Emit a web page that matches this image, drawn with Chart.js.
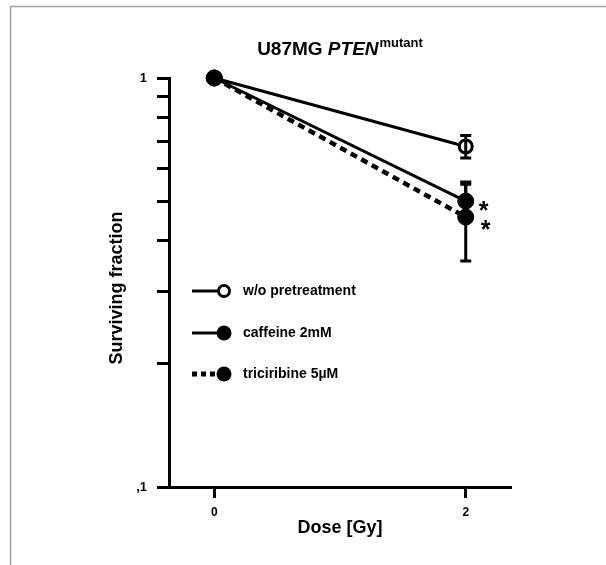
<!DOCTYPE html>
<html>
<head>
<meta charset="utf-8">
<script src="https://cdn.jsdelivr.net/npm/chart.js@4.4.0/dist/chart.umd.min.js"></script>
<style>
  html, body { margin: 0; padding: 0; background: #fff; }
  #wrap { width: 606px; height: 565px; }
</style>
</head>
<body>
<div id="wrap"><canvas id="myChart" width="606" height="565"></canvas></div>
<script>
// dose in Gy
const doses = [0, 2];
const woPre = [1, 0.68];
const woPreErr = [0, 0.043];
const caffeine = [1, 0.50];
const caffeineErr = [0, 0.05];
const triciribine = [1, 0.457];
const triciribineErr = [0, 0.10];
const xTicks = [0, 2];
const yTicks = [0.1, 0.2, 0.3, 0.4, 0.5, 0.6, 0.7, 0.8, 0.9, 1];
const legendLabels = ['w/o pretreatment', 'caffeine 2mM', 'triciribine 5µM'];
const starred = ['caffeine 2mM', 'triciribine 5µM'];

const FONT = '"Liberation Sans", Arial, sans-serif';

function pts(ys) {
  return doses.map((d, i) => ({ x: d, y: ys[i] }));
}

const series = [
  { label: 'caffeine 2mM', data: caffeine, err: caffeineErr, fill: true, dash: [] },
  { label: 'w/o pretreatment', data: woPre, err: woPreErr, fill: false, dash: [] },
  { label: 'triciribine 5µM', data: triciribine, err: triciribineErr, fill: true, dash: [7, 5] }
];

const extras = {
  id: 'extras',
  beforeDraw(chart) {
    const c = chart.ctx;
    c.save();
    c.fillStyle = '#fff';
    c.fillRect(0, 0, chart.width, chart.height);
    c.strokeStyle = '#9ea3a8';
    c.lineWidth = 1.5;
    c.beginPath();
    c.moveTo(10.5, chart.height);
    c.lineTo(10.5, 6.5);
    c.lineTo(chart.width, 6.5);
    c.stroke();
    c.restore();
  },
  afterDatasetsDraw(chart) {
    const c = chart.ctx;
    const xs = chart.scales.x, ys = chart.scales.y;
    c.save();
    c.strokeStyle = '#000';
    c.lineWidth = 3;
    series.forEach(s => {
      doses.forEach((d, i) => {
        if (!s.err[i]) return;
        const px = xs.getPixelForValue(d);
        const top = ys.getPixelForValue(s.data[i] + s.err[i]);
        const bot = ys.getPixelForValue(s.data[i] - s.err[i]);
        c.beginPath();
        c.moveTo(px, top); c.lineTo(px, bot);
        c.moveTo(px - 5.5, top); c.lineTo(px + 5.5, top);
        c.moveTo(px - 5.5, bot); c.lineTo(px + 5.5, bot);
        c.stroke();
      });
    });

    // significance stars
    c.fillStyle = '#000';
    c.font = 'bold 25px ' + FONT;
    c.textAlign = 'center';
    c.textBaseline = 'alphabetic';
    series.filter(s => starred.includes(s.label)).forEach((s, k) => {
      const i = doses.length - 1;
      const px = xs.getPixelForValue(doses[i]);
      const py = ys.getPixelForValue(s.data[i]);
      c.fillText('*', px + 18 + k * 2, py + 18 + k * 3);
    });
    c.restore();
  },
  afterDraw(chart) {
    const c = chart.ctx;
    const a = chart.chartArea;
    c.save();
    c.fillStyle = '#000';

    // title
    const t1 = 'U87MG ', t2 = 'PTEN', t3 = 'mutant';
    c.font = 'bold 19px ' + FONT;
    const w1 = c.measureText(t1).width;
    c.font = 'italic bold 19px ' + FONT;
    const w2 = c.measureText(t2).width;
    c.font = 'bold 13px ' + FONT;
    const w3 = c.measureText(t3).width;
    let x0 = (a.left + a.right) / 2 - (w1 + w2 + w3 + 1) / 2;
    c.textAlign = 'left';
    c.textBaseline = 'alphabetic';
    c.font = 'bold 19px ' + FONT;
    c.fillText(t1, x0, 55);
    c.font = 'italic bold 19px ' + FONT;
    c.fillText(t2, x0 + w1, 55);
    c.font = 'bold 13px ' + FONT;
    c.fillText(t3, x0 + w1 + w2 + 1, 47);

    // axis titles
    c.font = 'bold 18px ' + FONT;
    c.textAlign = 'center';
    c.textBaseline = 'middle';
    c.fillText('Dose [Gy]', (a.left + a.right) / 2, 528);
    c.save();
    c.translate(117, 288);
    c.rotate(-Math.PI / 2);
    c.fillText('Surviving fraction', 0, 0);
    c.restore();

    // legend
    const rows = [291, 333, 374];
    legendLabels.forEach((lab, i) => {
      const s = series.find(q => q.label === lab);
      const y = rows[i];
      c.strokeStyle = '#000';
      if (s.dash.length) {
        c.lineWidth = 5;
        c.setLineDash([5, 4]);
      } else {
        c.lineWidth = 3;
        c.setLineDash([]);
      }
      c.beginPath();
      c.moveTo(192, y);
      c.lineTo(218, y);
      c.stroke();
      c.setLineDash([]);
      c.beginPath();
      if (s.fill) {
        c.arc(224, y, 7.5, 0, Math.PI * 2);
        c.fillStyle = '#000';
        c.fill();
      } else {
        c.arc(224, y, 5.5, 0, Math.PI * 2);
        c.fillStyle = '#fff';
        c.fill();
        c.lineWidth = 3;
        c.stroke();
      }
      c.fillStyle = '#000';
      c.font = 'bold 14px ' + FONT;
      c.textAlign = 'left';
      c.textBaseline = 'middle';
      c.fillText(lab, 243, y);
    });
    c.restore();
  }
};

const ctx = document.getElementById('myChart').getContext('2d');
const myChart = new Chart(ctx, {
  type: 'line',
  data: {
    datasets: series.map(s => ({
      label: s.label,
      data: pts(s.data),
      borderColor: '#000',
      borderWidth: s.dash.length ? 4.5 : 3,
      borderDash: s.dash,
      pointRadius: s.fill ? 8 : 6.5,
      pointBorderWidth: s.fill ? 1 : 3,
      pointBackgroundColor: s.fill ? '#000' : '#fff',
      pointBorderColor: '#000',
      clip: false,
      tension: 0
    }))
  },
  options: {
    responsive: false,
    animation: false,
    devicePixelRatio: 1,
    layout: { padding: { top: 78, right: 95, left: 0, bottom: 0 } },
    plugins: { legend: { display: false }, title: { display: false }, tooltip: { enabled: false } },
    scales: {
      x: {
        type: 'linear',
        min: -0.36,
        max: 2.36,
        afterBuildTicks: sc => { sc.ticks = xTicks.map(v => ({ value: v })); },
        afterFit: sc => { sc.height = 78; },
        ticks: {
          color: '#000',
          font: { family: FONT, size: 12, weight: 'bold' },
          padding: 7,
          maxRotation: 0
        },
        grid: { drawOnChartArea: false, drawTicks: true, tickLength: 11, tickWidth: 3, tickColor: '#000' },
        border: { display: true, color: '#000', width: 3 }
      },
      y: {
        type: 'logarithmic',
        min: 0.1,
        max: 1,
        afterBuildTicks: sc => { sc.ticks = yTicks.map(v => ({ value: v })); },
        afterFit: sc => { sc.width = 169; },
        ticks: {
          color: '#000',
          font: { family: FONT, size: 13, weight: 'bold' },
          padding: 10,
          autoSkip: false,
          callback: v => v === 1 ? '1' : (Math.abs(v - 0.1) < 1e-9 ? ',1' : '')
        },
        grid: { drawOnChartArea: false, drawTicks: true, tickLength: 12, tickWidth: 3, tickColor: '#000' },
        border: { display: true, color: '#000', width: 3 }
      }
    }
  },
  plugins: [extras]
});
</script>
</body>
</html>
